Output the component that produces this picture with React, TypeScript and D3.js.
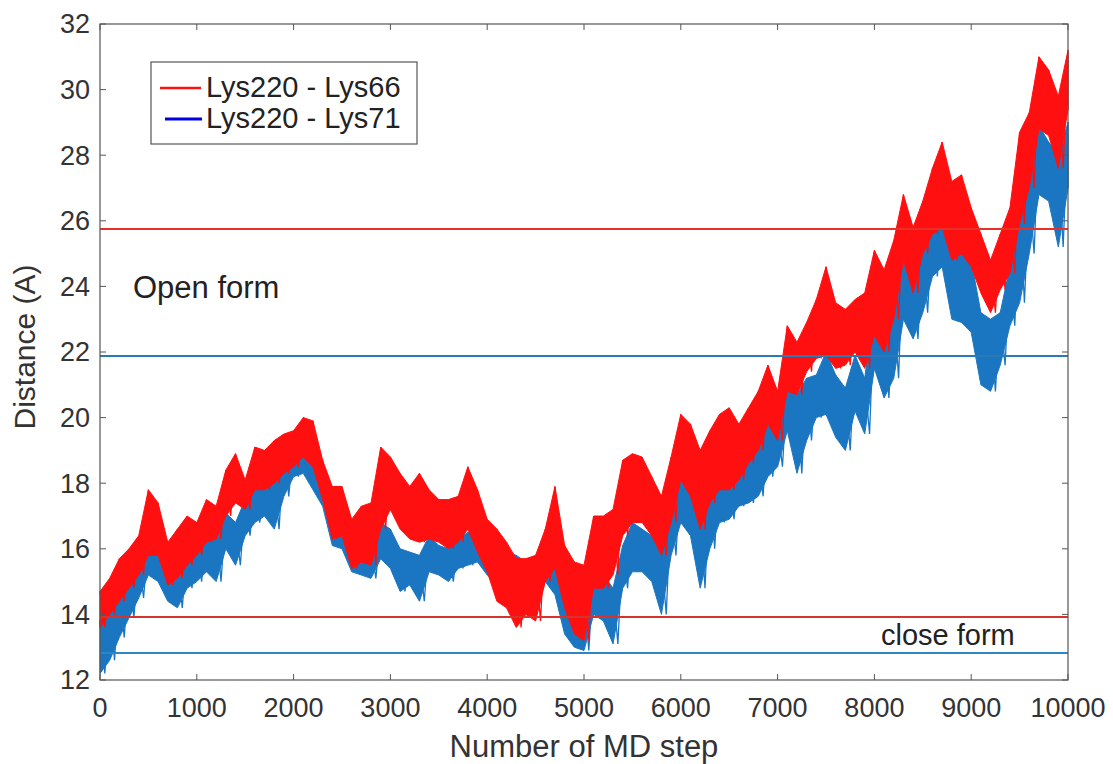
import React, { useRef, useEffect } from 'react';
import * as d3 from 'd3';

// MD step sampled every 100 steps
const steps = d3.range(0, 10001, 100);

// Lys220 - Lys66 (red): upper / lower envelope per 100 steps
const redHi = [
  14.7, 15.1, 15.7, 16.0, 16.4, 17.8, 17.4, 16.2, 16.6, 17.0,
  16.8, 17.5, 17.3, 18.4, 18.9, 18.1, 19.1, 19.0, 19.3, 19.5,
  19.6, 20.0, 19.9, 18.7, 17.9, 17.9, 16.9, 17.3, 17.4, 19.1,
  18.8, 18.3, 17.9, 18.3, 17.8, 17.5, 17.5, 17.6, 18.5, 17.8,
  16.9, 16.6, 16.2, 15.7, 15.7, 15.8, 16.6, 17.9, 16.1, 15.6,
  15.5, 17.0, 17.0, 17.2, 18.7, 18.9, 18.8, 18.2, 17.6, 18.8,
  20.1, 19.8, 19.0, 19.6, 20.1, 20.3, 19.8, 20.3, 20.8, 21.6,
  20.8, 22.8, 22.3, 22.9, 23.6, 24.6, 23.5, 23.3, 23.6, 23.8,
  25.1, 24.5, 25.4, 26.8, 25.8, 26.6, 27.6, 28.4, 27.2, 27.4,
  26.4, 25.6, 24.8, 25.6, 26.4, 28.7, 29.3, 31.0, 30.6, 29.8,
  31.2,
];
const redLo = [
  13.6, 14.0, 14.4, 14.8, 15.2, 15.8, 15.8, 14.9, 15.1, 15.5,
  15.8, 16.2, 16.3, 17.0, 17.4, 17.2, 17.8, 17.8, 18.0, 18.3,
  18.5, 18.8, 18.5, 17.5, 16.3, 16.4, 15.4, 15.6, 15.5, 16.6,
  17.2, 16.6, 16.3, 16.2, 16.3, 16.2, 16.0, 16.2, 16.6, 15.9,
  15.3, 14.4, 14.2, 13.6, 14.0, 13.8, 15.0, 15.4, 14.2, 13.4,
  13.2, 14.8, 14.8, 15.2, 16.4, 16.8, 16.8, 16.4, 15.8, 16.8,
  18.1, 17.6, 16.6, 17.4, 17.8, 17.8, 18.1, 18.6, 19.0, 19.8,
  19.3, 20.8, 20.7, 21.4, 21.8, 21.9, 21.5, 21.6, 22.0, 21.5,
  22.5, 22.0, 23.0, 24.8, 23.8, 25.0, 25.6, 25.8, 24.8, 25.0,
  24.6, 23.8, 23.2, 23.9, 24.4, 25.9, 27.0, 28.8, 28.6, 27.6,
  29.4,
];

// Lys220 - Lys71 (blue): upper / lower envelope per 100 steps
const blueHi = [
  13.8, 14.4, 14.9, 15.3, 15.8, 16.3, 16.2, 15.7, 15.6, 16.1,
  16.2, 16.8, 16.9, 17.1, 16.8, 17.5, 18.0, 17.8, 18.2, 19.2,
  19.3, 19.7, 18.8, 18.2, 17.6, 17.2, 16.4, 16.3, 16.1, 16.8,
  16.6, 16.0, 15.9, 15.8, 16.4, 16.1, 16.0, 16.3, 16.5, 16.6,
  16.2, 16.0, 15.9, 15.8, 15.6, 15.4, 16.0, 16.3, 15.5, 14.8,
  14.7, 15.4, 15.2, 14.8, 16.1, 16.8, 16.6, 16.4, 15.8, 17.5,
  18.6, 18.0, 17.3, 18.0, 18.5, 18.4, 18.6, 18.8, 19.0, 19.9,
  19.8, 21.0, 20.7, 21.2, 21.3, 22.0, 21.3, 20.9, 21.9, 21.2,
  23.5, 22.5, 23.5, 25.5, 24.0, 25.2, 26.2, 26.4, 25.0, 25.0,
  24.8, 23.2, 23.0, 23.2, 24.6, 26.4, 27.0, 28.9, 28.4, 28.0,
  29.0,
];
const blueLo = [
  12.2, 12.6, 13.3, 13.9, 14.5, 15.2, 15.0, 14.4, 14.2, 14.8,
  15.0, 15.3, 15.0, 16.0, 15.5, 16.4, 16.8, 17.0, 16.6, 17.6,
  18.2, 18.3, 17.8, 17.3, 16.1, 16.0, 15.3, 15.2, 15.1, 15.7,
  15.4, 14.7, 14.9, 14.4, 15.3, 15.2, 15.0, 15.4, 15.5, 15.6,
  15.2, 15.0, 14.8, 14.4, 14.4, 14.5, 15.0, 14.6, 13.4, 13.0,
  12.9, 14.0, 13.8, 13.1, 14.8, 15.3, 15.3, 15.0, 14.0, 15.8,
  16.8, 16.4, 14.8, 16.0, 16.8, 16.9, 17.3, 17.4, 17.6, 18.2,
  18.5, 19.6, 18.3, 19.3, 20.0, 20.1, 19.4, 19.0, 20.2, 19.5,
  21.5, 20.6, 21.2, 23.0, 22.4, 23.2, 24.3, 24.6, 23.0, 22.9,
  22.6, 21.0, 20.8, 21.6, 22.8, 23.5, 25.0, 26.8, 26.6, 25.2,
  27.0,
];

// reference distances (horizontal lines)
const openRed = 25.75;
const openBlue = 21.88;
const closeRed = 13.92;
const closeBlue = 12.82;

const xTicks = [0, 1000, 2000, 3000, 4000, 5000, 6000, 7000, 8000, 9000, 10000];
const yTicks = [12, 14, 16, 18, 20, 22, 24, 26, 28, 30, 32];

const RED = '#ff1010';
const BLUE = '#1b76c2';

const W = 1113;
const H = 764;
const FONT = '"Liberation Sans", Arial, Helvetica, sans-serif';

const App = () => {
  const svgRef = useRef(null);

  useEffect(() => {
    const svg = d3.select(svgRef.current);
    svg.selectAll('*').remove();

    const x = d3.scaleLinear().domain([0, 10000]).range([100, 1068]);
    const y = d3.scaleLinear().domain([12, 32]).range([680, 24]);

    const plot = svg.append('g');

    const drawSeries = (hi, lo, color) => {
      const rows = steps.map((s, i) => ({ s, hi: hi[i], lo: lo[i] }));
      const area = d3
        .area()
        .x((d) => x(d.s))
        .y0((d) => y(d.lo))
        .y1((d) => y(d.hi));
      plot.append('path').attr('d', area(rows)).attr('fill', color).attr('stroke', color).attr('stroke-width', 1);

      // spiky trace between envelopes
      const pts = rows.flatMap((d) => [
        [d.s, d.hi],
        [Math.min(d.s + 50, 10000), d.lo],
      ]);
      const line = d3
        .line()
        .x((d) => x(d[0]))
        .y((d) => y(d[1]));
      plot.append('path').attr('d', line(pts)).attr('fill', 'none').attr('stroke', color).attr('stroke-width', 1.3);
    };

    drawSeries(blueHi, blueLo, BLUE);
    drawSeries(redHi, redLo, RED);

    // horizontal reference lines
    [
      [openRed, '#e8302a'],
      [openBlue, '#2a7ab8'],
      [closeRed, '#d8322c'],
      [closeBlue, '#2f86c4'],
    ].forEach(([v, c]) => {
      svg
        .append('line')
        .attr('x1', x(0))
        .attr('x2', x(10000))
        .attr('y1', y(v))
        .attr('y2', y(v))
        .attr('stroke', c)
        .attr('stroke-width', 2);
    });

    // box + inward ticks
    const axisColor = '#555';
    svg
      .append('rect')
      .attr('x', x(0))
      .attr('y', y(32))
      .attr('width', x(10000) - x(0))
      .attr('height', y(12) - y(32))
      .attr('fill', 'none')
      .attr('stroke', axisColor)
      .attr('stroke-width', 1.2);

    const tl = 6;
    xTicks.forEach((t) => {
      svg.append('line').attr('x1', x(t)).attr('x2', x(t)).attr('y1', y(12)).attr('y2', y(12) - tl).attr('stroke', axisColor);
      svg.append('line').attr('x1', x(t)).attr('x2', x(t)).attr('y1', y(32)).attr('y2', y(32) + tl).attr('stroke', axisColor);
      svg
        .append('text')
        .attr('x', x(t))
        .attr('y', 717)
        .attr('text-anchor', 'middle')
        .attr('font-size', 27)
        .attr('fill', '#333')
        .text(t);
    });
    yTicks.forEach((t) => {
      svg.append('line').attr('x1', x(0)).attr('x2', x(0) + tl).attr('y1', y(t)).attr('y2', y(t)).attr('stroke', axisColor);
      svg.append('line').attr('x1', x(10000)).attr('x2', x(10000) - tl).attr('y1', y(t)).attr('y2', y(t)).attr('stroke', axisColor);
      svg
        .append('text')
        .attr('x', 90)
        .attr('y', y(t))
        .attr('dy', '0.35em')
        .attr('text-anchor', 'end')
        .attr('font-size', 27)
        .attr('fill', '#333')
        .text(t);
    });

    // axis titles
    svg
      .append('text')
      .attr('x', 584)
      .attr('y', 757)
      .attr('text-anchor', 'middle')
      .attr('font-size', 31)
      .attr('fill', '#333')
      .text('Number of MD step');
    svg
      .append('text')
      .attr('transform', 'translate(35,347) rotate(-90)')
      .attr('text-anchor', 'middle')
      .attr('font-size', 30)
      .attr('fill', '#333')
      .text('Distance (A)');

    // annotations
    svg.append('text').attr('x', 133).attr('y', 298).attr('font-size', 31).attr('fill', '#222').text('Open form');
    svg.append('text').attr('x', 881).attr('y', 645).attr('font-size', 29).attr('fill', '#222').text('close form');

    // legend
    const lg = svg.append('g');
    lg.append('rect')
      .attr('x', 151)
      .attr('y', 62)
      .attr('width', 266)
      .attr('height', 82)
      .attr('fill', '#fff')
      .attr('stroke', '#555')
      .attr('stroke-width', 1.2);
    lg.append('line').attr('x1', 160).attr('x2', 201).attr('y1', 88).attr('y2', 88).attr('stroke', RED).attr('stroke-width', 2.5);
    lg.append('line').attr('x1', 165).attr('x2', 202).attr('y1', 119).attr('y2', 119).attr('stroke', '#0000e0').attr('stroke-width', 3);
    lg.append('text').attr('x', 206).attr('y', 97).attr('font-size', 29).attr('fill', '#222').text('Lys220 - Lys66');
    lg.append('text').attr('x', 206).attr('y', 128).attr('font-size', 29).attr('fill', '#222').text('Lys220 - Lys71');
  }, []);

  return (
    <svg
      ref={svgRef}
      width={W}
      height={H}
      style={{ position: 'absolute', left: 0, top: 0, background: '#fff', fontFamily: FONT }}
    ></svg>
  );
};

export default App;
